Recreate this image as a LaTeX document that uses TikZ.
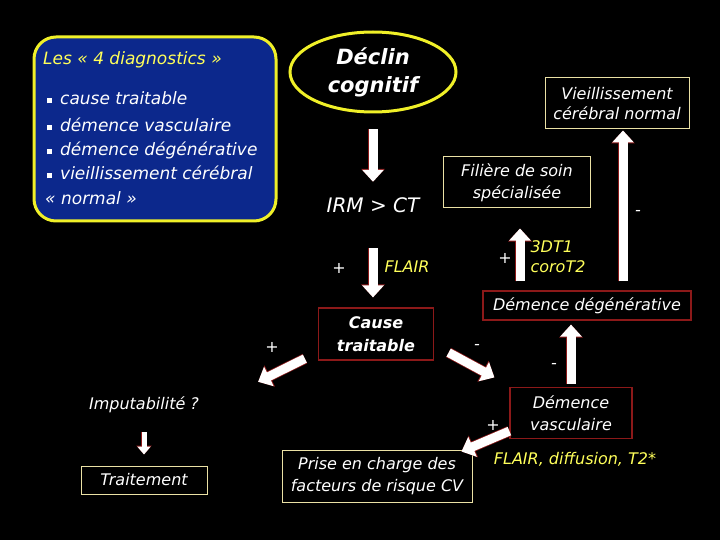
\documentclass[tikz,border=0pt]{standalone}
\usepackage{fontspec}
\setmainfont{DejaVu Sans}
\usetikzlibrary{shapes.geometric,arrows.meta,calc}
\definecolor{navyfill}{RGB}{12,40,140}
\definecolor{ylw}{RGB}{255,255,90}
\definecolor{maroonb}{RGB}{140,25,25}
\definecolor{cream}{RGB}{235,225,165}
\definecolor{bord}{RGB}{240,240,40}
\newcommand\mybullet{\rule[1.5pt]{5pt}{5pt}\hspace{8pt}}
\tikzset{
 txt/.style={text=white, font=\fontsize{16}{22}\selectfont\itshape, inner sep=0pt},
 ytxt/.style={txt, text=ylw},
 listitem/.style={txt, font=\fontsize{17}{20}\selectfont\itshape, anchor=base west},
 redbox/.style={txt, draw=maroonb, line width=1.2pt, align=center, inner sep=2pt},
 creambox/.style={txt, draw=cream, line width=1pt, align=center, inner sep=2pt},
 blockarrow/.style={draw=white, line width=9pt, -{Triangle[length=12pt,width=21pt]},
   preaction={draw=maroonb, line width=10.5pt, -{Triangle[length=13pt,width=23pt]}}},
 smallarrow/.style={draw=white, line width=5pt, -{Triangle[length=8pt,width=13pt]},
   preaction={draw=maroonb, line width=6.5pt, -{Triangle[length=9pt,width=15pt]}}},
}
\begin{document}
\begin{tikzpicture}[x=1pt,y=-1pt]
\useasboundingbox (0,0) rectangle (720,540);
\fill[black] (0,0) rectangle (720,540);
% blue summary box
\node[draw=bord, fill=navyfill, line width=3pt, rounded corners=22pt,
      minimum width=242pt, minimum height=184pt] (blue) at (155,129) {};
\node[ytxt, font=\fontsize{17}{20}\selectfont\itshape, anchor=base west] (title) at (43,65) {Les « 4 diagnostics »};
\node[listitem] (l1) at (47,105) {\mybullet cause traitable};
\node[listitem] (l2) at (47,132) {\mybullet démence vasculaire};
\node[listitem] (l3) at (47,156) {\mybullet démence dégénérative};
\node[listitem] (l4) at (47,180) {\mybullet vieillissement cérébral};
\node[listitem] (l5) at (45,205) {« normal »};
% main flow
\node[ellipse, draw=bord, line width=3pt, fill=black, minimum width=166pt, minimum height=80pt,
      text=white, font=\fontsize{21}{28}\selectfont\bfseries\itshape, align=center, inner sep=0pt] (decl) at (373,72) {Déclin\\cognitif};
\node[txt, font=\fontsize{20}{24}\selectfont\itshape, minimum height=20pt] (irm) at (373,205) {IRM > CT};
\node[txt] (plus1) at (339,268) {+};
\node[ytxt] (flair1) at (407,267) {FLAIR};
\node[redbox, font=\fontsize{16}{23}\selectfont\bfseries\itshape, minimum width=115pt, minimum height=52pt] (cause) at (376,334) {Cause\\traitable};
\node[txt] (plus2) at (272,347) {+};
\node[txt] (minus1) at (477,347) {-};
\node[txt, minimum height=18pt] (imput) at (144,405) {Imputabilité ?};
\node[creambox, minimum width=126pt, minimum height=28pt] (trait) at (144,480) {Traitement};
\node[creambox, minimum width=190pt, minimum height=52pt] (prise) at (377,476) {Prise en charge des\\facteurs de risque CV};
\node[redbox, minimum width=122pt, minimum height=51pt] (dvasc) at (571,413) {Démence\\vasculaire};
\node[txt] (plus3) at (493,425) {+};
\node[ytxt] (flair2) at (575,459) {FLAIR, diffusion, T2*};
\node[txt] (minus2) at (554,366) {-};
\node[redbox, minimum width=208pt, minimum height=29pt] (ddeg) at (587,305.5) {Démence dégénérative};
\node[txt] (plus4) at (505,258) {+};
\node[ytxt, align=left, font=\fontsize{16}{20}\selectfont\itshape] (t1) at (558,257) {3DT1\\coroT2};
\node[creambox, minimum width=147pt, minimum height=51pt] (filiere) at (517,182.5) {Filière de soin\\spécialisée};
\node[creambox, font=\fontsize{16}{20}\selectfont\itshape, minimum width=144pt, minimum height=51pt] (vieil) at (617,103.5) {Vieillissement\\cérébral normal};
\node[txt] (minus3) at (638,213) {-};
% arrows
\draw[blockarrow] ($(decl.south)+(0,16)$) -- ($(irm.north)+(0,-13)$);
\draw[blockarrow] ($(irm.south)+(0,33)$) -- ($(irm.south |- cause.north)+(0,-10)$);
\draw[blockarrow] ($(cause.south west)+(-13,-2)$) -- ($(imput.north east)+(59,-14)$);
\draw[blockarrow] ($(cause.south east)+(14.5,-8)$) -- ($(dvasc.north west)+(-15,-9.5)$);
\draw[smallarrow] ($(imput.south)+(0,18)$) -- ($(trait.north)+(0,-11)$);
\draw[blockarrow] ($(dvasc.south west)+(0,-8)$) -- ($(prise.north east)+(-11,2)$);
\draw[blockarrow] ($(dvasc.north)+(0,-3)$) -- ($(dvasc.north |- ddeg.south)+(0,4)$);
\draw[blockarrow] ($(ddeg.north -| filiere.south)+(3,-9)$) -- ($(filiere.south)+(3,20)$);
\draw[blockarrow] ($(ddeg.north -| vieil.south)+(6,-9)$) -- ($(vieil.south)+(6,1)$);
\end{tikzpicture}
\end{document}
